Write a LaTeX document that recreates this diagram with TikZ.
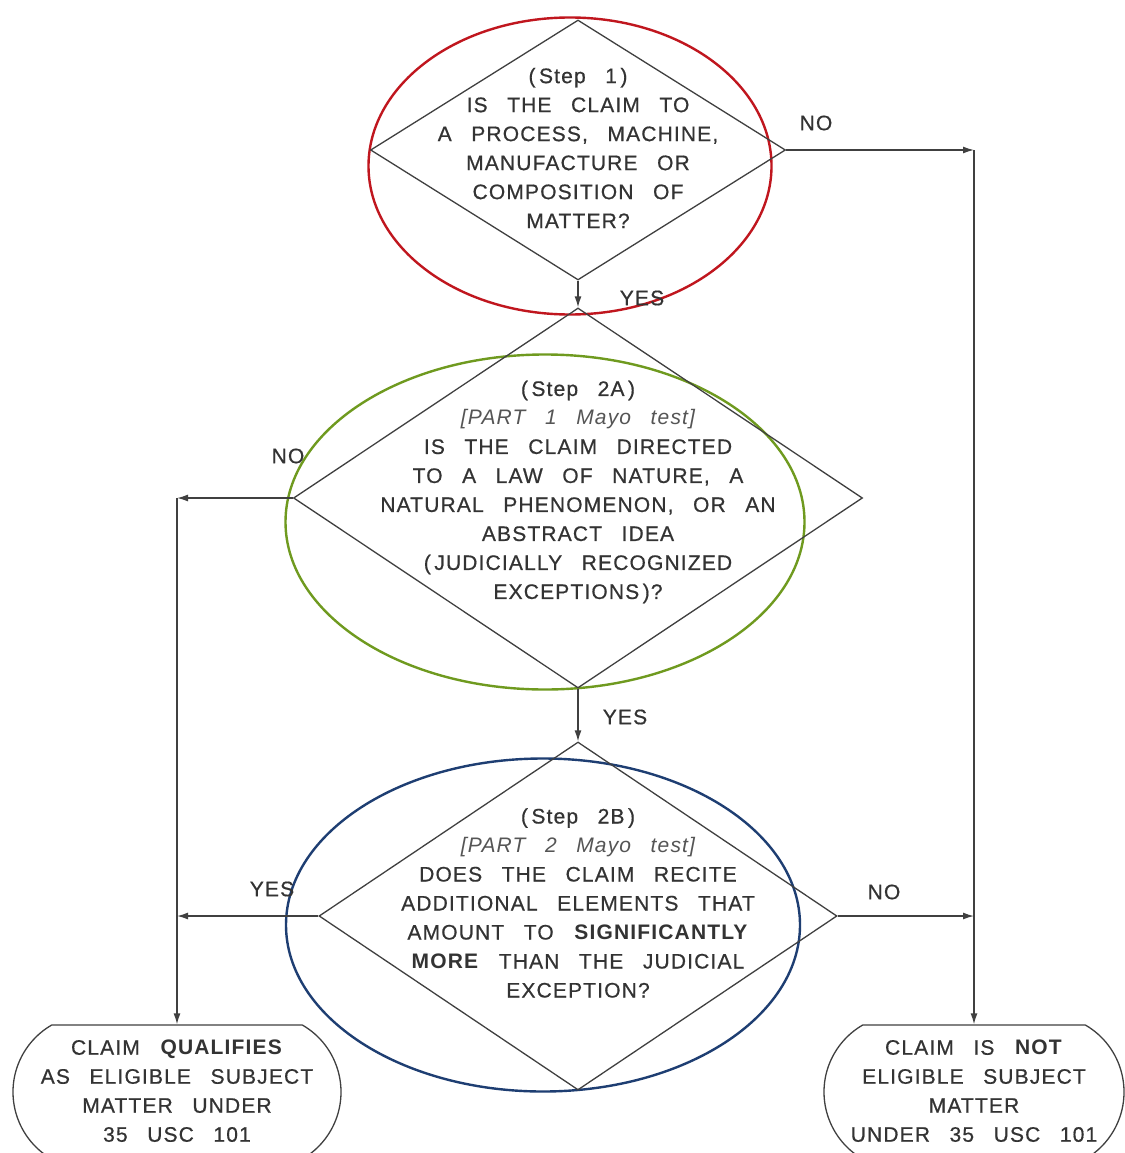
\documentclass[tikz,border=0pt]{standalone}
\usepackage{fontspec}
\setmainfont{Liberation Sans}[WordSpace=2.8,LetterSpace=5.5,UprightFeatures={FakeBold=0.6}]
\usetikzlibrary{arrows.meta,shapes.geometric,shapes.misc}
\definecolor{RingRed}{HTML}{C0161E}
\definecolor{RingGreen}{HTML}{6F9A1F}
\definecolor{RingBlue}{HTML}{1E3E72}
\definecolor{LineDark}{HTML}{404040}
\definecolor{TextDark}{HTML}{333333}
\definecolor{TextSoft}{HTML}{555555}

\begin{document}
\begin{tikzpicture}[x=1pt,y=-1pt,font=\fontsize{21}{29}\selectfont,text=TextDark,>={Latex[length=11pt,width=7pt]},
  ring/.style={ellipse,draw=#1,line width=2.4pt,inner sep=0pt},
  decision/.style={diamond,draw=LineDark,line width=1.3pt,inner sep=0pt},
  terminal/.style={rounded rectangle,rounded rectangle arc length=120,draw=LineDark,line width=1.3pt,inner sep=0pt,minimum height=134},
  question/.style={align=center,inner sep=0pt},
  answer/.style={inner sep=0pt},
  flow/.style={->,draw=LineDark,line width=1.4pt}]
\useasboundingbox (0,0) rectangle (1124,1153);
\fill[white] (0,0) rectangle (1124,1153);
% coloured rings behind the three questions
\foreach \name/\col/\cx/\cy/\wd/\ht in {ring1/RingRed/570/166/403/297,ring2a/RingGreen/545/522/519/335,ring2b/RingBlue/543/925/514/333}
  \node[ring=\col,minimum width=\wd,minimum height=\ht] (\name) at (\cx,\cy) {};
% questions
\node[decision,minimum width=415,minimum height=260] (step1) at (578,150) {};
\node[question] (step1text) at (578,148) {(\,Step 1\,)\\IS THE CLAIM TO\\A PROCESS, MACHINE,\\MANUFACTURE OR\\COMPOSITION OF\\MATTER?};
\node[decision,minimum width=569,minimum height=380] (step2a) at (578,498) {};
\node[question] (step2atext) at (578,492) {(\,Step 2A\,)\\\textcolor{TextSoft}{\itshape [PART 1 Mayo test]}\\IS THE CLAIM DIRECTED\\TO A LAW OF NATURE, A\\NATURAL PHENOMENON, OR AN\\ABSTRACT IDEA\\(\,JUDICIALLY RECOGNIZED\\EXCEPTIONS\,)?};
\node[decision,minimum width=518,minimum height=348] (step2b) at (578,916) {};
\node[question] (step2btext) at (578,903) {(\,Step 2B\,)\\\textcolor{TextSoft}{\itshape [PART 2 Mayo test]}\\DOES THE CLAIM RECITE\\ADDITIONAL ELEMENTS THAT\\AMOUNT TO \textbf{SIGNIFICANTLY}\\\textbf{MORE} THAN THE JUDICIAL\\EXCEPTION?};
% outcomes
\node[terminal,minimum width=328] (qualifies) at (177,1092) {};
\node[question] (qualifiestext) at (177,1091) {CLAIM \textbf{QUALIFIES}\\AS ELIGIBLE SUBJECT\\MATTER UNDER\\35 USC 101};
\node[terminal,minimum width=300] (notelig) at (974,1092) {};
\node[question] (noteligtext) at (974,1091) {CLAIM IS \textbf{NOT}\\ELIGIBLE SUBJECT\\MATTER\\UNDER 35 USC 101};
% connectors
\coordinate (noCorner) at (step1.east -| notelig.north);
\coordinate (noTurn) at (step2a.west -| qualifies.north);
\draw[flow] (step1.south) -- (step2a.north);
\draw[flow] (step2a.south) -- (step2b.north);
\draw[flow] (step1.east) -- (noCorner);
\draw[flow] (noCorner) -- (notelig.north);
\draw[flow] (step2b.east) -- (step2b.east -| notelig.north);
\draw[flow] (step2a.west) -- (noTurn);
\draw[flow] (noTurn) -- (qualifies.north);
\draw[flow] (step2b.west) -- (step2b.west -| qualifies.north);
% answers
\node[answer] (noStep1) at (816,123) {NO};
\node[answer] (yesStep1) at (642,298) {YES};
\node[answer] (noStep2a) at (288,456) {NO};
\node[answer] (yesStep2a) at (625,717) {YES};
\node[answer] (yesStep2b) at (272,889) {YES};
\node[answer] (noStep2b) at (884,892) {NO};
\end{tikzpicture}
\end{document}
